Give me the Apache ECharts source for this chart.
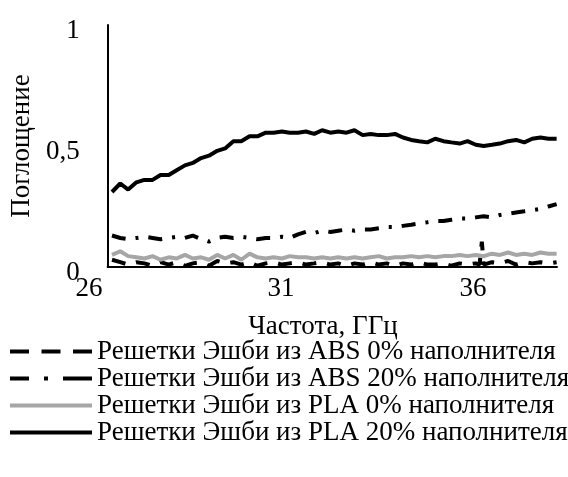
<!DOCTYPE html>
<html>
<head>
<meta charset="utf-8">
<script src="https://cdn.jsdelivr.net/npm/echarts@6/dist/echarts.min.js"></script>
<style>html,body{margin:0;padding:0;background:#fff}#c{width:568px;height:477px}</style>
</head>
<body>
<div id="c"></div>
<script>
// Frequency, GHz
const freq = [26.35,26.57,26.78,27.0,27.21,27.43,27.64,27.86,28.07,28.29,28.5,28.72,28.93,29.15,29.36,29.58,29.79,30.01,30.22,30.44,30.65,30.87,31.08,31.3,31.51,31.73,31.94,32.16,32.37,32.59,32.8,33.02,33.23,33.45,33.66,33.88,34.09,34.31,34.52,34.74,34.95,35.17,35.38,35.6,35.81,36.03,36.24,36.46,36.67,36.89,37.1,37.32,37.53,37.75,37.96,38.18];
const freqAbs0 = [26.35,26.57,26.78,27.0,27.21,27.43,27.64,27.86,28.07,28.29,28.5,28.72,28.93,29.15,29.36,29.58,29.79,30.01,30.22,30.44,30.65,30.87,31.08,31.3,31.51,31.73,31.94,32.16,32.37,32.59,32.8,33.02,33.23,33.45,33.66,33.88,34.09,34.31,34.52,34.74,34.95,35.17,35.38,35.6,35.81,36.03,36.13,36.19,36.24,36.46,36.67,36.89,37.1,37.32,37.53,37.75,37.96,38.18];
const abs0 = [0.03,0.02,0.01,0.02,0.015,0.005,0.02,0.01,0.02,0.005,0.015,0.02,0.005,0.025,0.015,0.02,0.01,0.02,0.005,0.015,0.02,0.01,0.015,0.02,0.01,0.015,0.02,0.01,0.015,0.005,0.015,0.01,0.02,0.01,0.015,0.005,0.015,0.01,0.02,0.01,0.01,0.015,0.005,0.015,0.01,0.015,0.01,0.105,0.01,0.02,0.015,0.025,0.01,0.02,0.015,0.02,0.015,0.02];
const abs20 = [0.13,0.12,0.115,0.12,0.125,0.12,0.115,0.12,0.125,0.12,0.13,0.115,0.105,0.12,0.125,0.12,0.125,0.12,0.115,0.12,0.12,0.125,0.12,0.135,0.145,0.14,0.15,0.145,0.15,0.155,0.15,0.155,0.155,0.16,0.165,0.165,0.17,0.175,0.18,0.185,0.19,0.19,0.195,0.2,0.2,0.205,0.21,0.205,0.215,0.22,0.225,0.23,0.235,0.24,0.25,0.26];
const pla0 = [0.05,0.065,0.045,0.04,0.035,0.045,0.03,0.04,0.035,0.05,0.035,0.04,0.03,0.05,0.035,0.05,0.03,0.055,0.04,0.035,0.04,0.035,0.045,0.04,0.04,0.035,0.04,0.035,0.04,0.035,0.04,0.035,0.04,0.045,0.035,0.04,0.04,0.045,0.04,0.045,0.04,0.045,0.045,0.05,0.045,0.05,0.045,0.055,0.05,0.06,0.05,0.055,0.05,0.06,0.055,0.055];
const pla20 = [0.31,0.345,0.32,0.35,0.36,0.36,0.38,0.38,0.4,0.42,0.43,0.45,0.46,0.48,0.49,0.52,0.52,0.54,0.54,0.555,0.555,0.56,0.555,0.555,0.56,0.55,0.565,0.555,0.56,0.555,0.565,0.545,0.55,0.545,0.545,0.55,0.535,0.525,0.52,0.515,0.53,0.52,0.515,0.51,0.52,0.505,0.5,0.505,0.51,0.52,0.525,0.515,0.53,0.535,0.53,0.53];
const seriesNames = ['Решетки Эшби из ABS 0% наполнителя','Решетки Эшби из ABS 20% наполнителя','Решетки Эшби из PLA 0% наполнителя','Решетки Эшби из PLA 20% наполнителя'];
const xTickLabels = [26, 31, 36];
const yTickLabels = ['0', '0,5', '1'];
const xTitle = 'Частота, ГГц';
const yTitle = 'Поглощение';

const FONT = 'Liberation Serif';
const pairs = (xs, ys) => xs.map((x, i) => [x, ys[i]]);

// x scale: 26 GHz sits 9 px left of the value axis (category-style labels)
const X_MIN_LABEL = 26, X_MAX = 38.19, PX_PER_GHZ = 38.4;
const X_MIN_PLOT = X_MIN_LABEL + 9 / PX_PER_GHZ;

const chart = echarts.init(document.getElementById('c'), null, {renderer: 'canvas'});
chart.setOption({
  animation: false,
  backgroundColor: '#fff',
  grid: [
    {left: 98, top: 25, right: 11, bottom: 210, containLabel: false},
    {left: 89, top: 25, right: 11, bottom: 210, containLabel: false}
  ],
  xAxis: [
    {
      gridIndex: 0, type: 'value', min: X_MIN_PLOT, max: X_MAX,
      axisLine: {show: true, onZero: false, lineStyle: {color: '#000', width: 2}},
      axisTick: {show: false}, splitLine: {show: false}, axisLabel: {show: false}
    },
    {
      gridIndex: 1, type: 'value', min: X_MIN_LABEL, max: X_MAX, interval: 5,
      axisLine: {show: false}, axisTick: {show: false}, splitLine: {show: false},
      axisLabel: {
        color: '#000', fontFamily: FONT, fontSize: 27, margin: 8,
        showMaxLabel: false,
        formatter: v => xTickLabels.includes(v) ? String(v) : ''
      },
      name: xTitle, nameLocation: 'middle', nameGap: 46,
      nameTextStyle: {color: '#000', fontFamily: FONT, fontSize: 27}
    }
  ],
  yAxis: [
    {
      gridIndex: 0, type: 'value', min: 0, max: 1, interval: 0.5,
      axisLine: {show: true, onZero: false, lineStyle: {color: '#000', width: 2}},
      axisTick: {show: false}, splitLine: {show: false},
      axisLabel: {
        margin: 28,
        formatter: (v) => '{v|' + yTickLabels[Math.round(v * 2)] + '}',
        rich: {v: {color: '#000', fontFamily: FONT, fontSize: 27, padding: [12, 0, 0, 0]}}
      },
      name: yTitle, nameLocation: 'middle', nameGap: 64,
      nameTextStyle: {color: '#000', fontFamily: FONT, fontSize: 27}
    },
    {gridIndex: 1, type: 'value', min: 0, max: 1, show: false}
  ],
  legend: {
    orient: 'vertical', left: 3, top: 333, itemGap: 0,
    itemWidth: 82, itemHeight: 14,
    textStyle: {color: '#000', fontFamily: FONT, fontSize: 27, lineHeight: 27},
    itemStyle: {color: 'transparent', borderColor: 'transparent', borderWidth: 0},
    lineStyle: {width: 4},
    data: [
      {name: seriesNames[0], lineStyle: {type: [19, 12.5]}},
      {name: seriesNames[1], lineStyle: {type: [19, 15, 4, 15, 30]}},
      {name: seriesNames[2]},
      {name: seriesNames[3]}
    ]
  },
  series: [
    {name: seriesNames[0], type: 'line', symbol: 'none', xAxisIndex: 0, yAxisIndex: 0, data: pairs(freqAbs0, abs0),
     lineStyle: {color: '#000', width: 4, type: [14, 11]}, itemStyle: {color: '#000'}},
    {name: seriesNames[1], type: 'line', symbol: 'none', xAxisIndex: 0, yAxisIndex: 0, data: pairs(freq, abs20),
     lineStyle: {color: '#000', width: 4, type: [14, 10, 3, 10]}, itemStyle: {color: '#000'}},
    {name: seriesNames[2], type: 'line', symbol: 'none', xAxisIndex: 0, yAxisIndex: 0, data: pairs(freq, pla0),
     lineStyle: {color: '#a6a6a6', width: 4}, itemStyle: {color: '#a6a6a6'}},
    {name: seriesNames[3], type: 'line', symbol: 'none', xAxisIndex: 0, yAxisIndex: 0, data: pairs(freq, pla20),
     lineStyle: {color: '#000', width: 4}, itemStyle: {color: '#000'}}
  ]
});
</script>
</body>
</html>
